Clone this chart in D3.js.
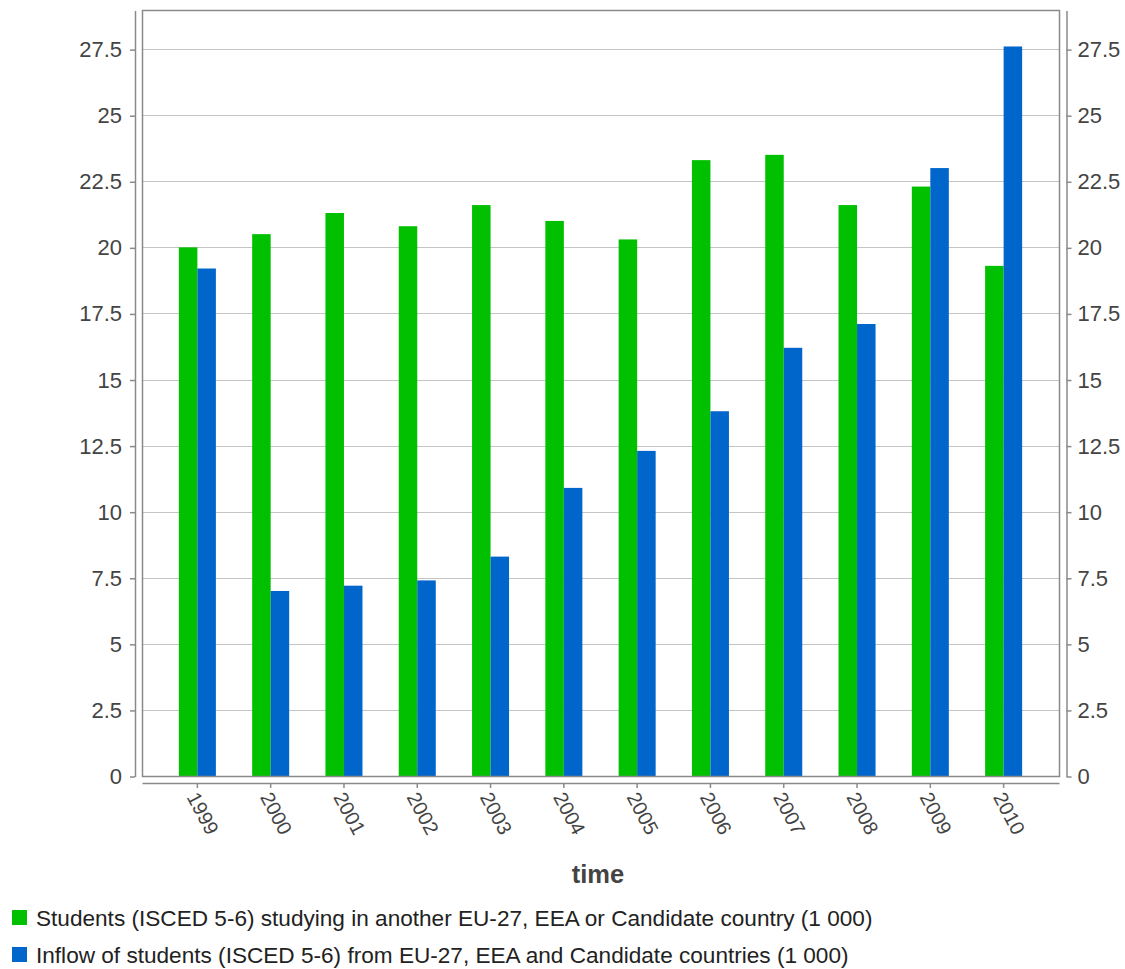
<!DOCTYPE html>
<html>
<head>
<meta charset="utf-8">
<script src="https://cdnjs.cloudflare.com/ajax/libs/d3/7.8.5/d3.min.js"></script>
<style>
	body { margin: 0; background: #fff; }
	svg { display: block; font-family: "Liberation Sans", Arial, sans-serif; }
	.tick text { fill: #444; }
</style>
</head>
<body>
<svg id="plot" width="1125" height="969"></svg>
<script>
	var years = ["1999","2000","2001","2002","2003","2004","2005","2006","2007","2008","2009","2010"];
	var studying = [20.0, 20.5, 21.3, 20.8, 21.6, 21.0, 20.3, 23.3, 23.5, 21.6, 22.3, 19.3];
	var inflow = [19.2, 7.0, 7.2, 7.4, 8.3, 10.9, 12.3, 13.8, 16.2, 17.1, 23.0, 27.6];
	var seriesNames = ["Students (ISCED 5-6) studying in another EU-27, EEA or Candidate country (1 000)",
		"Inflow of students (ISCED 5-6) from EU-27, EEA and Candidate countries (1 000)"];
	var colors = ["#00c000", "#0066cc"];
	var yTicks = [0, 2.5, 5, 7.5, 10, 12.5, 15, 17.5, 20, 22.5, 25, 27.5];

	var pLeft = 142, pRight = 1059, pTop = 10, pBottom = 776;
	var svg = d3.select("#plot");

	var x = d3.scaleBand().domain(years).range([pLeft, pRight])
		.paddingInner(0.495).paddingOuter(0.503);
	var x1 = d3.scaleBand().domain([0, 1]).range([0, x.bandwidth()]);
	var y = d3.scaleLinear().domain([0, 28.98]).range([pBottom, pTop]);

	// gridlines
	svg.append("g").selectAll("line").data(yTicks).enter()
		.append("line")
		.attr("x1", pLeft).attr("x2", pRight)
		.attr("y1", function(d){ return Math.round(y(d)) + 0.5; })
		.attr("y2", function(d){ return Math.round(y(d)) + 0.5; })
		.style("stroke", "#c4c4c4").style("stroke-width", 1);

	// bars
	var series = [studying, inflow];
	series.forEach(function(vals, si){
		svg.append("g").selectAll("rect").data(vals).enter()
			.append("rect")
			.attr("x", function(d, i){ return x(years[i]) + x1(si); })
			.attr("width", x1.bandwidth())
			.attr("y", function(d){ return y(d); })
			.attr("height", function(d){ return y(0) - y(d); })
			.attr("fill", colors[si]);
	});

	// plot frame
	svg.append("rect")
		.attr("x", pLeft + 0.5).attr("y", pTop + 0.5)
		.attr("width", pRight - pLeft).attr("height", pBottom - pTop)
		.attr("fill", "none").style("stroke", "#8a8a8a").style("stroke-width", 1.5);

	// axes
	function styleAxis(g){
		g.selectAll(".domain").style("stroke", "#8a8a8a").style("stroke-width", 1.5);
		g.selectAll(".tick line").style("stroke", "#8a8a8a").style("stroke-width", 1.5);
	}
	var yl = d3.scaleLinear().domain(y.domain()).range([pBottom + 0.5, pTop + 0.5]);
	svg.append("g").attr("transform", "translate(135,0)")
		.call(d3.axisLeft(yl).tickValues(yTicks).tickFormat(d3.format("")).tickSize(5).tickSizeOuter(0).tickPadding(8))
		.call(styleAxis)
		.selectAll("text").style("font-size", "22px").style("font-family", "Liberation Sans, Arial, sans-serif");
	svg.append("g").attr("transform", "translate(1066.5,0)")
		.call(d3.axisRight(yl).tickValues(yTicks).tickFormat(d3.format("")).tickSize(5).tickSizeOuter(0).tickPadding(6))
		.call(styleAxis)
		.selectAll("text").style("font-size", "22px").style("font-family", "Liberation Sans, Arial, sans-serif");

	var xa = svg.append("g").attr("transform", "translate(0,783)")
		.call(d3.axisBottom(x).tickSize(5).tickSizeOuter(0))
		.call(styleAxis);
	xa.selectAll("text")
		.style("font-size", "20px").style("font-family", "Liberation Sans, Arial, sans-serif")
		.attr("text-anchor", "start").attr("dy", null).attr("y", 0)
		.attr("transform", "translate(-11,14) rotate(62)");

	svg.append("text").attr("x", 598).attr("y", 883)
		.attr("text-anchor", "middle")
		.style("font-size", "25.5px").style("font-weight", "bold").style("fill", "#444")
		.text("time");

	// legend
	var lg = svg.append("g").selectAll("g").data(seriesNames).enter()
		.append("g").attr("transform", function(d, i){ return "translate(12," + (910 + i * 37) + ")"; });
	lg.append("rect").attr("width", 15).attr("height", 15)
		.attr("fill", function(d, i){ return colors[i]; });
	lg.append("text").attr("x", 24).attr("y", 16)
		.style("font-size", "22.6px").style("fill", "#222")
		.text(function(d){ return d; });
</script>
</body>
</html>
